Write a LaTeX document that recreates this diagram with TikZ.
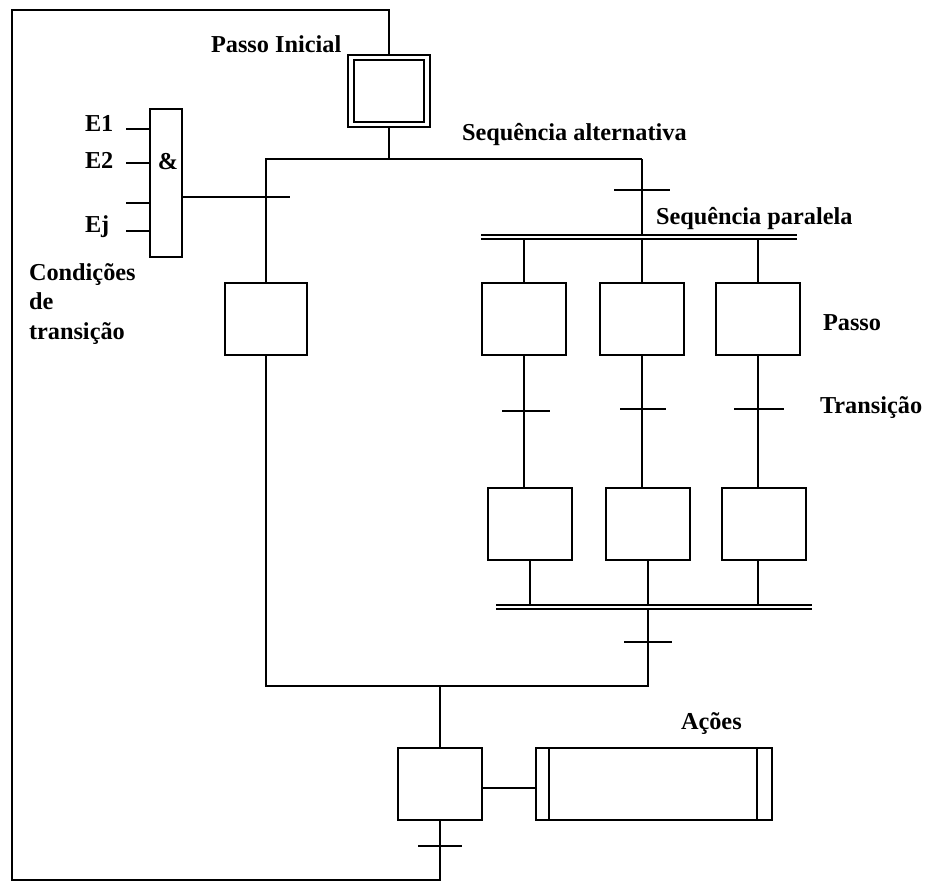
\documentclass[tikz,border=0pt]{standalone}
\usepackage{fontspec}
\setmainfont{Liberation Serif}
\begin{document}
\begin{tikzpicture}[x=1pt,y=-1pt,line width=2pt,
  stepbox/.style={draw,rectangle,inner sep=0pt,minimum width=84pt,minimum height=72pt},
  gatebox/.style={draw,rectangle,inner sep=0pt,minimum width=32pt,minimum height=148pt},
  lbl/.style={anchor=base west,inner sep=0pt,font=\fontsize{24.3}{28}\selectfont\bfseries}]
\useasboundingbox (0,0) rectangle (925,884);

% initial step (double box)
\node[stepbox,minimum width=82pt] (init) at (389,91) {};
\node[stepbox,minimum width=70pt,minimum height=62pt] (initin) at (389,91) {};

% AND gate with its inputs
\node[gatebox] (gate) at (166,183) {};
\node[lbl,anchor=center] (amp) at (168,162) {\&};
\coordinate (in1) at (126,129);
\coordinate (in2) at (126,163);
\coordinate (in3) at (126,203);
\coordinate (in4) at (126,231);
\draw (in1) -- (in1 -| gate.west);
\draw (in2) -- (in2 -| gate.west);
\draw (in3) -- (in3 -| gate.west);
\draw (in4) -- (in4 -| gate.west);

% steps
\node[stepbox,minimum width=82pt] (s1) at (266,319) {};
\node[stepbox] (p1) at (524,319) {};
\node[stepbox] (p2) at (642,319) {};
\node[stepbox] (p3) at (758,319) {};
\node[stepbox] (q1) at (530,524) {};
\node[stepbox] (q2) at (648,524) {};
\node[stepbox] (q3) at (764,524) {};
\node[stepbox] (last) at (440,784) {};
\node[draw,rectangle,inner sep=0pt,minimum width=236pt,minimum height=72pt] (act) at (654,784) {};
\draw ([xshift=14pt]act.north west) -- ([xshift=14pt]act.south west);
\draw ([xshift=-16pt]act.north east) -- ([xshift=-16pt]act.south east);

% frame loop back to the initial step
\coordinate (fr1) at (389,10);
\coordinate (fr0) at (12,10);
\coordinate (fr2) at (12,880);
\coordinate (fr3) at (440,880);
\draw (last.south) -- (fr3) -- (fr2) -- (fr0) -- (fr1) -- (init.north);
\draw (418,846) -- (462,846);

% alternative divergence
\coordinate (alt) at (389,159);
\coordinate (altR) at (642,159);
\draw (init.south) -- (alt);
\draw (s1.north) |- (alt) -- (altR);
\coordinate (tr0) at (290,197);
\draw (gate.east |- tr0) -- (tr0);
\draw (614,190) -- (670,190);

% parallel divergence
\coordinate (pbL) at (481,235);
\coordinate (pbR) at (797,235);
\coordinate (pbL2) at (481,239);
\coordinate (pbR2) at (797,239);
\draw (altR) -- (altR |- pbL);
\draw (pbL) -- (pbR);
\draw (pbL2) -- (pbR2);
\draw (p1.north) -- (p1.north |- pbL2);
\draw (p2.north) -- (p2.north |- pbL2);
\draw (p3.north) -- (p3.north |- pbL2);

% parallel branches with transitions
\draw (p1.south) -- (p1.south |- q1.north);
\draw (p2.south) -- (p2.south |- q2.north);
\draw (p3.south) -- (p3.south |- q3.north);
\draw (502,411) -- (550,411);
\draw (620,409) -- (666,409);
\draw (734,409) -- (784,409);

% parallel convergence
\coordinate (jbL) at (496,605);
\coordinate (jbR) at (812,605);
\coordinate (jbL2) at (496,609);
\coordinate (jbR2) at (812,609);
\draw (jbL) -- (jbR);
\draw (jbL2) -- (jbR2);
\draw (q1.south) -- (q1.south |- jbL);
\draw (q2.south) -- (q2.south |- jbL);
\draw (p3.south |- q3.south) -- (p3.south |- jbL);

% alternative convergence
\coordinate (conv) at (648,686);
\coordinate (mid) at (440,686);
\draw (q2.south |- jbL2) -- (conv) -- (s1.south |- conv) -- (s1.south);
\draw (624,642) -- (672,642);
\draw (mid) -- (last.north);
\draw ([yshift=-4pt]last.east) -- ([yshift=-4pt]last.east -| act.west);

% labels
\node[lbl] (lInit) at (210,52) {Passo Inicial};
\node[lbl] (lAlt) at (461,140) {Sequência alternativa};
\node[lbl] (lPar) at (655,224) {Sequência paralela};
\node[lbl] (lPasso) at (822,330) {Passo};
\node[lbl] (lTrans) at (819,413) {Transição};
\node[lbl] (lAcoes) at (680,729) {Ações};
\node[lbl] (lE1) at (84,131) {E1};
\node[lbl] (lE2) at (84,168) {E2};
\node[lbl] (lEj) at (84,232) {Ej};
\node[lbl] (lCond) at (28,280) {Condições};
\node[lbl] (lDe) at (28,309) {de};
\node[lbl] (lTr) at (28,339) {transição};
\end{tikzpicture}
\end{document}
